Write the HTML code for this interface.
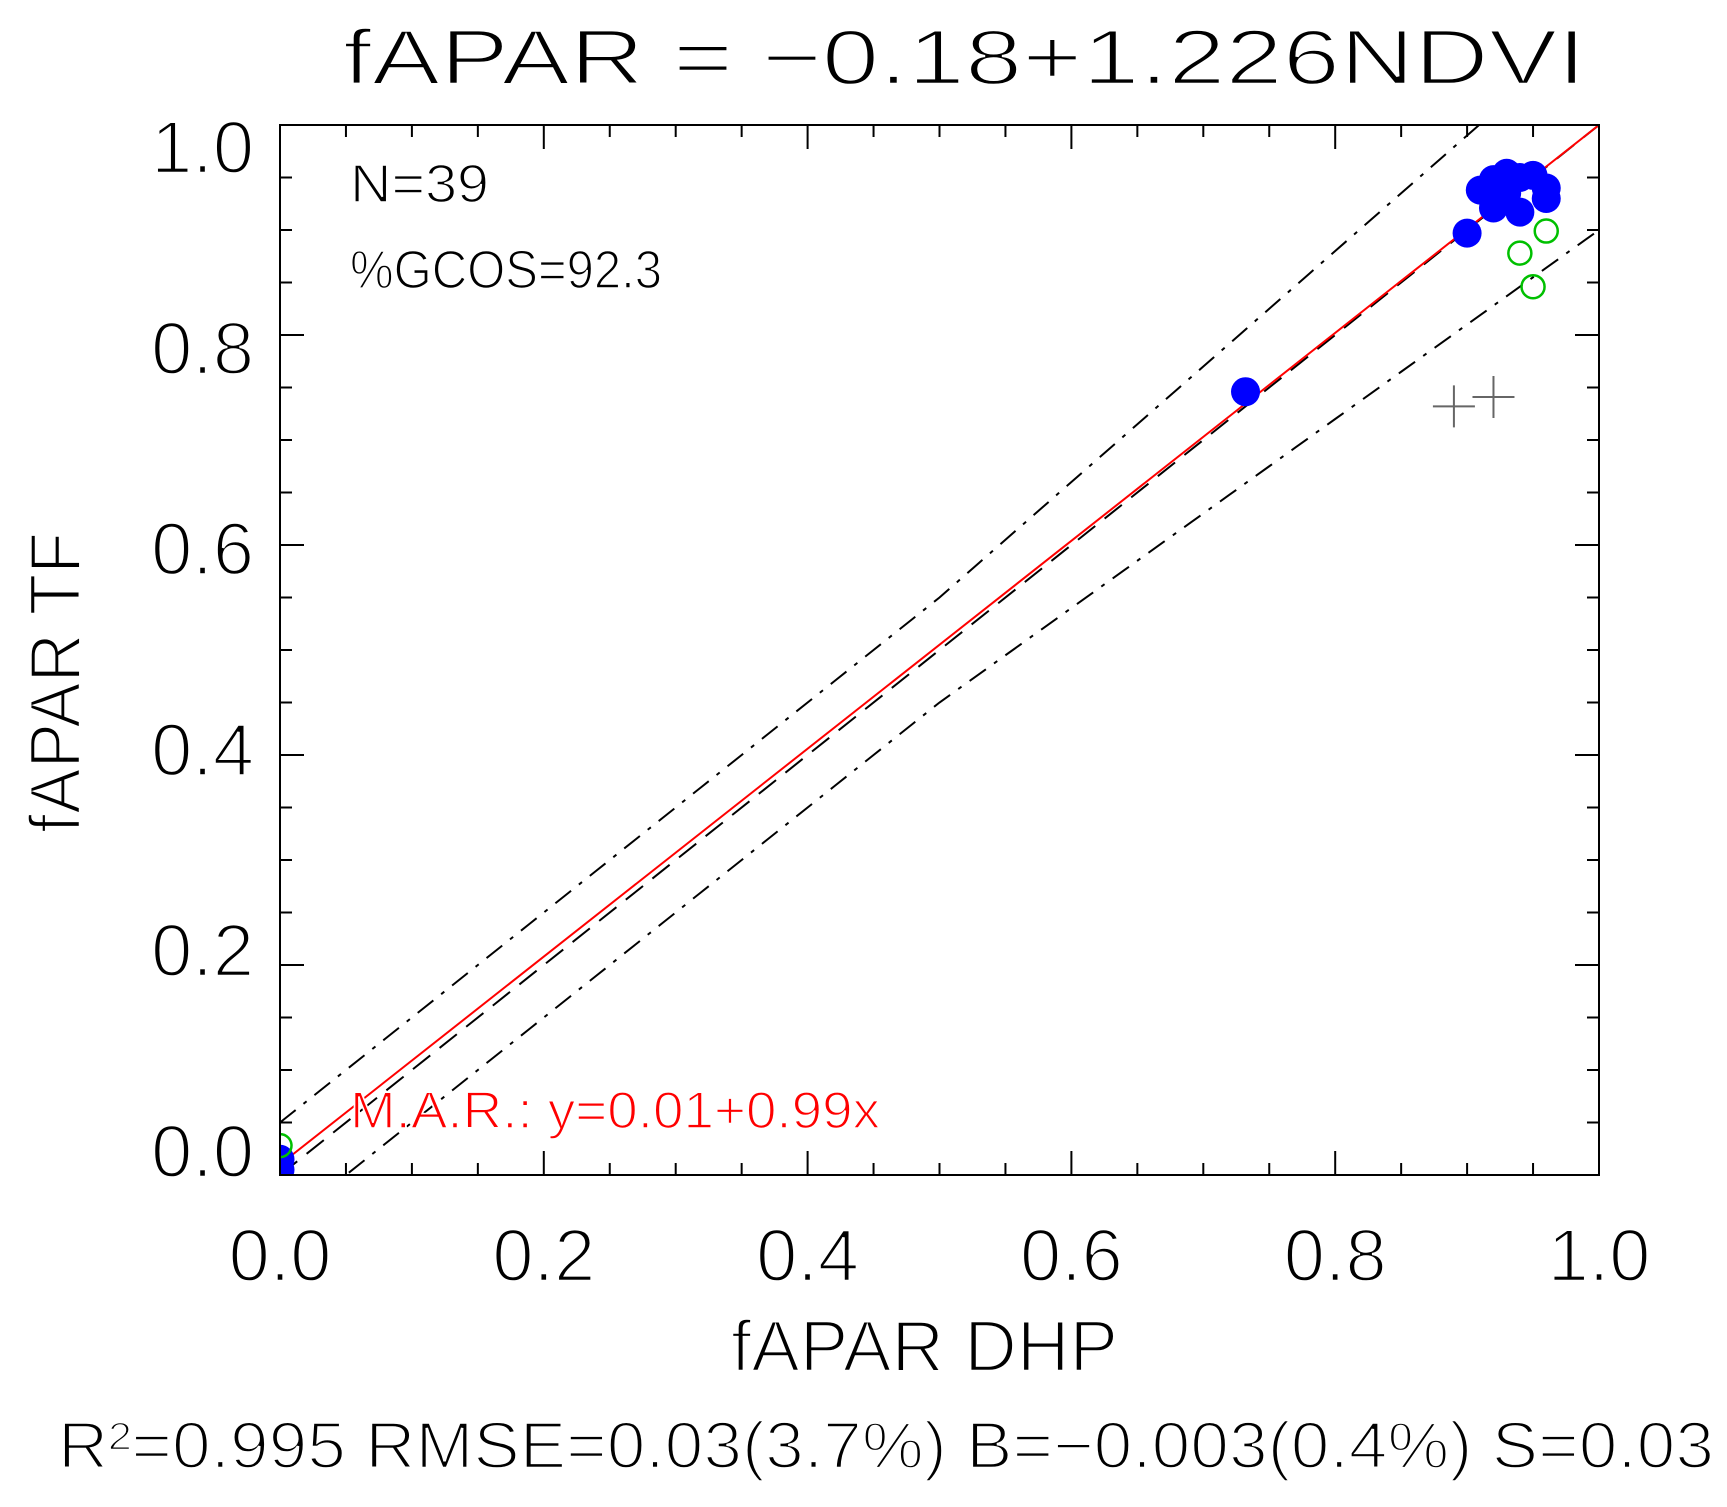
<!DOCTYPE html>
<html><head><meta charset="utf-8">
<style>
html,body{margin:0;padding:0;background:#fff;}
svg{display:block;}
text{font-family:"Liberation Sans","DejaVu Sans",sans-serif;}
.thin{stroke:#fff;stroke-width:2.4px;paint-order:normal;}
.thin2{stroke:#fff;stroke-width:1.6px;paint-order:normal;}
</style></head>
<body>
<svg id="chart" width="1727" height="1507" viewBox="0 0 1727 1507" xmlns="http://www.w3.org/2000/svg">
<defs><clipPath id="plotclip"><rect x="280" y="125" width="1319" height="1050"/></clipPath></defs>
<text class="thin" x="343" y="84" font-size="78" textLength="1243" lengthAdjust="spacingAndGlyphs">fAPAR = −0.18+1.226NDVI</text>
<g id="axes"></g>
<g id="lines" clip-path="url(#plotclip)"></g>
<g id="marks" clip-path="url(#plotclip)"></g>
<rect x="280" y="125" width="1319" height="1050" fill="none" stroke="#000" stroke-width="2"/>
<text class="thin2" x="350" y="202" font-size="54" textLength="139" lengthAdjust="spacingAndGlyphs">N=39</text>
<text class="thin2" x="350" y="288" font-size="54" textLength="312" lengthAdjust="spacingAndGlyphs">%GCOS=92.3</text>
<text class="thin2" x="350" y="1128" font-size="52" fill="#ff0000" textLength="530" lengthAdjust="spacingAndGlyphs">M.A.R.: y=0.01+0.99x</text>
<text class="thin" x="731" y="1371" font-size="72" textLength="387" lengthAdjust="spacingAndGlyphs">fAPAR DHP</text>
<text class="thin" transform="translate(80,833) rotate(-90)" x="0" y="0" font-size="72" textLength="301" lengthAdjust="spacingAndGlyphs">fAPAR TF</text>
<text class="thin" x="58" y="1468" font-size="66" textLength="1656" lengthAdjust="spacingAndGlyphs">R²=0.995 RMSE=0.03(3.7%) B=−0.003(0.4%) S=0.03</text>
</svg>
<script>
const xTicks = [0, 0.2, 0.4, 0.6, 0.8, 1.0];
const yTicks = [0, 0.2, 0.4, 0.6, 0.8, 1.0];
const tickLabels = ["0.0","0.2","0.4","0.6","0.8","1.0"];
const blueX = [0.910,0.920,0.930,0.940,0.950,0.960,0.960,0.920,0.940,0.930,0.900,0.732,0.0,0.0];
const blueY = [0.938,0.948,0.954,0.950,0.952,0.940,0.930,0.921,0.917,0.935,0.897,0.746,0.005,0.015];
const greenX = [0.960,0.940,0.950,0.0];
const greenY = [0.899,0.878,0.846,0.028];
const crossX = [0.890,0.920];
const crossY = [0.732,0.741];
const marIntercept = 0.01;
const marSlope = 0.99;

const L=280,R=1599,T=125,B=1175;
const sx=v=>L+v*(R-L);
const sy=v=>B-v*(B-T);
const labelY=v=>1150-v*1004;
const NS="http://www.w3.org/2000/svg";
function mk(parent,tag,attrs){const e=document.createElementNS(NS,tag);for(const k in attrs)e.setAttribute(k,attrs[k]);parent.appendChild(e);return e;}
const axes=document.getElementById('axes'),lines=document.getElementById('lines'),marks=document.getElementById('marks');

for(let i=0;i<=20;i++){
  const v=i*0.05, major=(i%4===0), len=major?24:12;
  const x=sx(v), y=sy(v);
  let t;
  t=mk(axes,'line',{x1:x,y1:B,x2:x,y2:B-len,stroke:'#000','stroke-width':2});
  
  
  t=mk(axes,'line',{x1:x,y1:T,x2:x,y2:T+len,stroke:'#000','stroke-width':2});
  
  
  t=mk(axes,'line',{x1:L,y1:y,x2:L+len,y2:y,stroke:'#000','stroke-width':2});
  
  
  t=mk(axes,'line',{x1:R,y1:y,x2:R-len,y2:y,stroke:'#000','stroke-width':2});
  
  
}
xTicks.forEach((v,i)=>{
  const t=mk(axes,'text',{x:sx(v),y:1281,'font-size':74,'text-anchor':'middle','class':'thin'});
  t.textContent=tickLabels[i];
  
  
});
yTicks.forEach((v,i)=>{
  const t=mk(axes,'text',{x:254,y:labelY(v)+27,'font-size':74,'text-anchor':'end','class':'thin'});
  t.textContent=tickLabels[i];
  
  
});

let ln=mk(lines,'line',{x1:sx(0),y1:sy(0),x2:sx(1),y2:sy(1),stroke:'#000','stroke-width':2,'stroke-dasharray':'22 12'});


let up=[];for(let i=0;i<=100;i++){const v=i/100;up.push(sx(v)+','+sy(Math.max(1.1*v,v+0.05)));}
ln=mk(lines,'polyline',{points:up.join(' '),fill:'none',stroke:'#000','stroke-width':2,'stroke-dasharray':'20 10 4 10'});


let lo=[];for(let i=0;i<=100;i++){const v=i/100;lo.push(sx(v)+','+sy(Math.min(0.9*v,v-0.05)));}
ln=mk(lines,'polyline',{points:lo.join(' '),fill:'none',stroke:'#000','stroke-width':2,'stroke-dasharray':'20 10 4 10'});


ln=mk(lines,'line',{x1:sx(0),y1:sy(marIntercept),x2:sx(1),y2:sy(marIntercept+marSlope),stroke:'#ff0000','stroke-width':2});



blueX.forEach((v,i)=>{
  const c=mk(marks,'circle',{cx:sx(v),cy:sy(blueY[i]),r:14.5,fill:'#0000ff'});
  
  
});
greenX.forEach((v,i)=>{
  const c=mk(marks,'circle',{cx:sx(v),cy:sy(greenY[i]),r:11.5,fill:'none',stroke:'#00c000','stroke-width':2.5});
  
  
});
crossX.forEach((v,i)=>{
  const cx=sx(v),cy=sy(crossY[i]);
  const g=mk(marks,'path',{d:`M${cx-21},${cy}H${cx+21}M${cx},${cy-21}V${cy+21}`,stroke:'#666','stroke-width':2,fill:'none'});
  
  
});
</script>
</body></html>
